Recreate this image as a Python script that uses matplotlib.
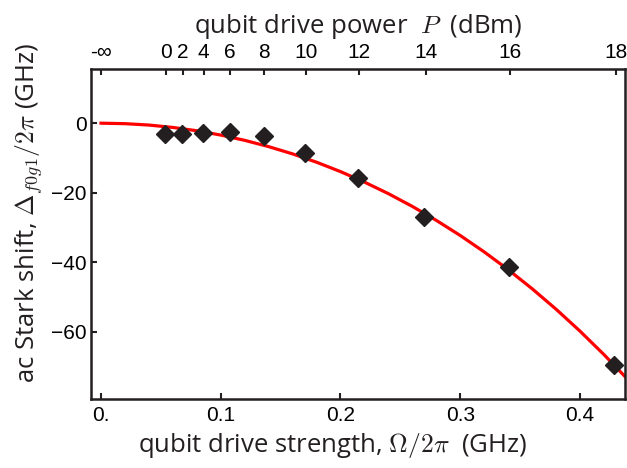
import matplotlib.pyplot as plt
import numpy as np

# measured ac Stark shift vs drive strength
omega = [0.0537, 0.0676, 0.0851, 0.1074, 0.1357, 0.1705, 0.2145, 0.2699, 0.3408, 0.4287]
shift = [-3.2, -3.0, -2.9, -2.4, -3.7, -8.6, -15.8, -26.9, -41.3, -69.7]

# fit curve
fit_omega = [0.00, 0.02, 0.04, 0.06, 0.08, 0.10, 0.12, 0.14, 0.16, 0.18, 0.20, 0.22,
             0.24, 0.26, 0.28, 0.30, 0.32, 0.34, 0.36, 0.38, 0.40, 0.42, 0.44]
fit_shift = [0.0, -0.14, -0.54, -1.23, -2.18, -3.42, -4.94, -6.75, -8.84, -11.24, -13.94,
             -16.96, -20.29, -23.96, -27.97, -32.33, -37.05, -42.15, -47.64, -53.54,
             -59.85, -66.60, -73.80]

# top axis: drive power in dBm
power_dbm = [0, 2, 4, 6, 8, 10, 12, 14, 16, 18]
omega_at_0dbm = 0.0541

dark = '#231f20'
plt.rcParams['mathtext.fontset'] = 'cm'

fig = plt.figure(figsize=(6.27, 4.68), dpi=100)
ax = fig.add_axes([0.1447, 0.1474, 0.8521, 0.7052])

ax.plot(fit_omega, fit_shift, color='red', lw=2.3, zorder=2)
ax.plot(omega, shift, 'D', color=dark, ms=9, zorder=3)

ax.set_xlim(-0.0086, 0.4376)
ax.set_ylim(-79.4, 15.6)
ax.set_xticks([0, 0.1, 0.2, 0.3, 0.4])
ax.set_xticklabels(['0.', '0.1', '0.2', '0.3', '0.4'])
ax.set_yticks([0, -20, -40, -60])
ax.tick_params(direction='in', length=4, width=1.5, color=dark, labelsize=15,
               labelcolor='black', right=False, top=False)
ax.tick_params(axis='x', pad=5)
ax.tick_params(axis='y', pad=3)
for s in ax.spines.values():
    s.set_linewidth(1.8)
    s.set_color(dark)
for lab in ax.get_xticklabels() + ax.get_yticklabels():
    lab.set_family('Liberation Sans')

lab_font = dict(family=['Open Sans', 'DejaVu Sans'], fontsize=18.5, color=dark)
ax.set_xlabel(r'qubit drive strength, $\Omega/2\pi$  (GHz)', **lab_font)
ax.xaxis.set_label_coords(0.453, -0.097)
ax.set_ylabel(r'ac Stark shift, $\Delta_{f0g1}/2\pi$ (GHz)', **lab_font)
ax.yaxis.set_label_coords(-0.086, 0.564)

top = ax.twiny()
top.set_xlim(ax.get_xlim())
top_pos = [0.0] + [omega_at_0dbm * 10 ** (p / 20) for p in power_dbm]
top.set_xticks(top_pos)
top.set_xticklabels(['-∞'] + [str(p) for p in power_dbm])
top.tick_params(direction='in', length=4, width=1.5, color=dark, labelsize=15,
                labelcolor='black', pad=5)
for lab in top.get_xticklabels():
    lab.set_family(['Liberation Sans', 'DejaVu Sans'])
for s in top.spines.values():
    s.set_visible(False)
top.set_xlabel(r'qubit drive power  $P$  (dBm)', labelpad=7, **lab_font)

fig.savefig('out.png', dpi=100)
